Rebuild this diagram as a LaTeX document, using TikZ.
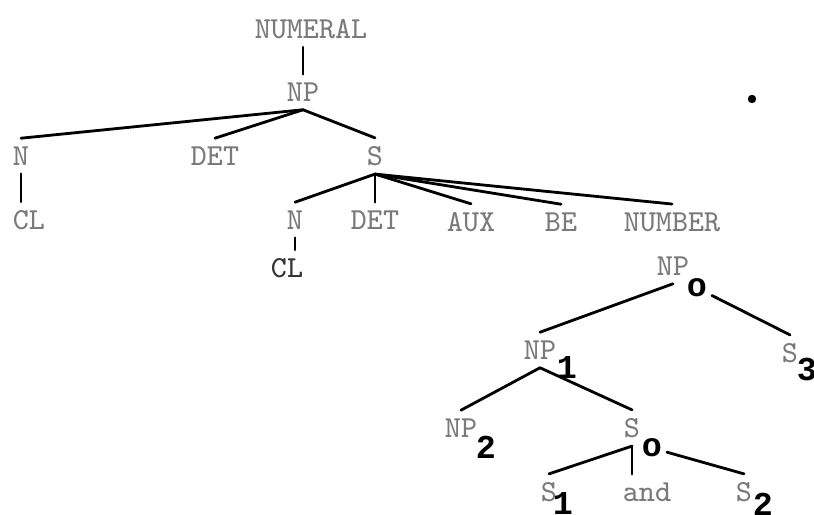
\documentclass[tikz,border=0pt]{standalone}
\usepackage{fontspec}
\newfontfamily\subfont{Liberation Mono}
\begin{document}
\begin{tikzpicture}[line join=round, line cap=round, line width=0.8pt,
    lab/.style={font=\fontsize{8.7}{10}\ttfamily\addfontfeature{FakeBold=2}, text=black!52, inner sep=2pt},
    dark/.style={lab, text=black!80},
    sub/.style={font=\subfont\bfseries\fontsize{9.5}{10}\selectfont, inner sep=1pt}]
  \useasboundingbox (0,0) rectangle (8.14,-5.15);
  % upper tree
  \node[lab] (numeral) at (3.11,-0.29) {NUMERAL};
  \node[lab] (np) at (3.03,-0.92) {NP};
  \node[lab] (n) at (0.21,-1.56) {N};
  \node[lab] (det) at (2.15,-1.56) {DET};
  \node[lab] (s) at (3.75,-1.56) {S};
  \node[lab] (cl) at (0.29,-2.20) {CL};
  \node[lab] (n2) at (2.95,-2.20) {N};
  \node[lab] (det2) at (3.75,-2.20) {DET};
  \node[lab] (aux) at (4.71,-2.22) {AUX};
  \node[lab] (be) at (5.61,-2.22) {BE};
  \node[lab] (number) at (6.72,-2.22) {NUMBER};
  \node[dark] (cl2) at (2.87,-2.68) {CL};
  \draw (numeral.south -| np.north) -- (np.north);
  \draw (np.south) -- (n.north);
  \draw (np.south) -- (det.north);
  \draw (np.south) -- (s.north);
  \draw (n.south) -- (n.south |- cl.north);
  \foreach \k in {n2,det2,aux,be,number}
    \draw (s.south) -- (\k.north);
  \draw (n2.south) -- (n2.south |- cl2.north);
  % lower tree
  \node[lab] (np0) at (6.73,-2.66) {NP};
  \node[sub] (np0o) at (6.97,-2.88) {o};
  \node[lab] (np1) at (5.40,-3.50) {NP};
  \node[sub] (np1i) at (5.67,-3.68) {1};
  \node[lab] (s3) at (7.90,-3.53) {S};
  \node[sub] (s3i) at (8.07,-3.70) {3};
  \node[lab] (np2) at (4.61,-4.28) {NP};
  \node[sub] (np2i) at (4.86,-4.47) {2};
  \node[lab] (s0) at (6.32,-4.28) {S};
  \node[sub] (s0o) at (6.52,-4.48) {o};
  \node[lab] (s1) at (5.49,-4.92) {S};
  \node[sub] (s1i) at (5.63,-5.04) {1};
  \node[lab] (and) at (6.47,-4.92) {and};
  \node[lab] (s2) at (7.44,-4.92) {S};
  \node[sub] (s2i) at (7.63,-5.04) {2};
  \draw (np0.south) -- (np1.north);
  \draw (np0o) -- (s3.north);
  \draw (np1.south) -- (np2.north);
  \draw (np1.south) -- (s0.north);
  \draw (s0.south) -- (s1.north);
  \draw (s0.south) -- (s0.south |- and.north);
  \draw (s0o) -- (s2.north);
  \fill (7.52,-0.99) circle(1.2pt);
\end{tikzpicture}
\end{document}
